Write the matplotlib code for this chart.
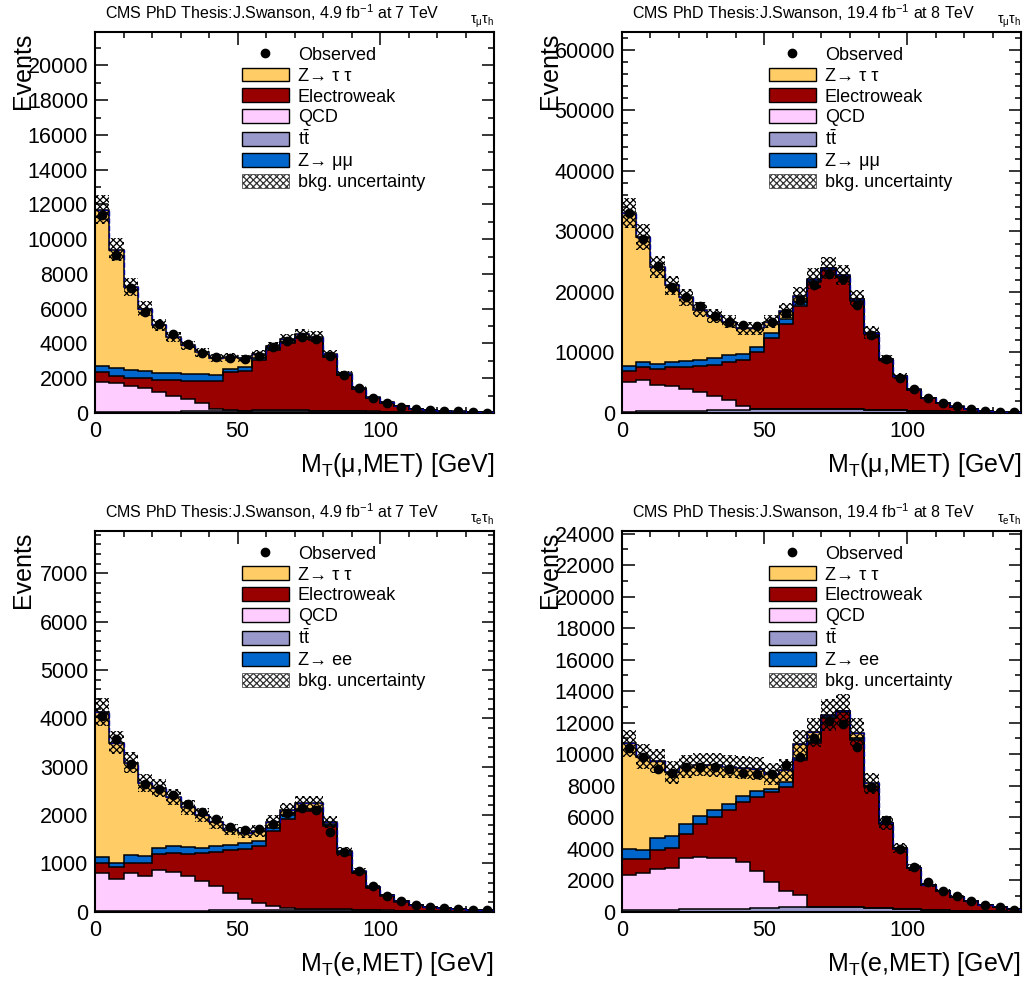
import numpy as np
import matplotlib
matplotlib.use("Agg")
import matplotlib.pyplot as plt
from matplotlib.patches import Patch
from matplotlib.lines import Line2D
from matplotlib.ticker import MultipleLocator

plt.rcParams['font.family'] = ['Liberation Sans', 'DejaVu Sans']
plt.rcParams['mathtext.fontset'] = 'custom'
plt.rcParams['mathtext.rm'] = 'Liberation Sans'
plt.rcParams['mathtext.it'] = 'Liberation Sans:italic'
plt.rcParams['mathtext.bf'] = 'Liberation Sans:bold'
plt.rcParams['hatch.linewidth'] = 0.9

# bins: 0 - 140 GeV, 5 GeV wide
edges = np.arange(0, 145, 5)

# ---- mu-tau, 7 TeV ----
obs_mt7 = [11380, 9100, 7200, 5820, 5100, 4520, 3980, 3470, 3240, 3180, 3080, 3280, 3770, 4160,
           4390, 4230, 3280, 2180, 1420, 880, 560, 360, 210, 170, 110, 100, 60, 20]
ztt_mt7 = [9000, 6830, 4790, 3570, 2740, 2090, 1670, 1270, 1000, 710, 520, 250, 120, 150,
           160, 150, 140, 80, 50, 40, 30, 20, 15, 10, 5, 5, 5, 0]
ewk_mt7 = [580, 410, 480, 570, 670, 900, 1050, 1280, 1650, 2230, 2290, 2900, 3470, 3890,
           4180, 4060, 3110, 2060, 1280, 790, 510, 330, 170, 100, 70, 50, 40, 30]
qcd_mt7 = [1770, 1700, 1500, 1360, 1160, 920, 700, 460, 90, 20, 10, 20, 20, 20,
           20, 20, 20, 20, 10, 10, 10, 10, 10, 10, 10, 10, 5, 0]
tt_mt7 = [30, 40, 50, 60, 70, 80, 90, 100, 120, 130, 130, 130, 130, 130,
          130, 120, 110, 100, 90, 80, 70, 60, 50, 40, 30, 20, 15, 10]
zll_mt7 = [320, 420, 440, 440, 420, 380, 380, 380, 320, 130, 190, 90, 100, 60,
           50, 40, 30, 20, 15, 10, 5, 5, 5, 5, 5, 5, 5, 0]

# ---- mu-tau, 8 TeV ----
obs_mt8 = [33100, 28700, 24300, 20900, 19100, 17600, 16100, 15100, 14500, 14300, 15100, 16600, 18700, 21200,
           23000, 22100, 17800, 12900, 8900, 5800, 3900, 2500, 1660, 1100, 660, 390, 220, 110]
ztt_mt8 = [25250, 20600, 16100, 12600, 10500, 8400, 6900, 5500, 4200, 3100, 1800, 1400, 1000, 200,
           100, 100, 100, 100, 50, 50, 40, 30, 20, 20, 10, 10, 5, 5]
ewk_mt8 = [1900, 2100, 2700, 3200, 3700, 4250, 5200, 6300, 7600, 9280, 11700, 14000, 17000, 20900,
           22900, 21760, 17870, 12430, 8190, 5490, 3390, 2120, 1340, 850, 470, 310, 160, 70]
qcd_mt8 = [4900, 5250, 4300, 4100, 3550, 3100, 2350, 1600, 550, 120, 100, 70, 70, 70,
           50, 40, 30, 20, 10, 10, 10, 10, 10, 0, 0, 0, 0, 0]
tt_mt8 = [200, 250, 300, 300, 350, 400, 450, 500, 550, 600, 600, 650, 650, 650,
          650, 600, 600, 550, 500, 450, 400, 300, 250, 200, 150, 60, 40, 30]
zll_mt8 = [750, 900, 800, 900, 1000, 950, 1100, 1200, 1100, 900, 900, 800, 600, 400,
           300, 300, 300, 200, 150, 100, 60, 40, 30, 20, 10, 10, 5, 5]

# ---- e-tau, 7 TeV ----
obs_et7 = [4050, 3570, 3050, 2650, 2540, 2410, 2230, 2070, 1910, 1750, 1690, 1720, 1820, 2050,
           2140, 2110, 1660, 1230, 840, 530, 330, 230, 140, 100, 76, 55, 48, 40]
ztt_et7 = [3010, 2480, 1900, 1500, 1230, 1000, 810, 670, 480, 320, 220, 200, 140, 110,
           110, 110, 40, 20, 20, 10, 10, 5, 5, 0, 5, 5, 5, 0]
ewk_et7 = [210, 240, 220, 270, 330, 380, 450, 580, 700, 890, 1040, 1180, 1550, 1840,
           2030, 2040, 1720, 1150, 760, 460, 300, 185, 120, 80, 60, 45, 35, 30]
qcd_et7 = [790, 670, 790, 735, 855, 810, 730, 615, 510, 350, 225, 145, 85, 43,
           20, 10, 10, 10, 5, 5, 5, 5, 5, 5, 0, 0, 0, 0]
tt_et7 = [10, 10, 10, 15, 15, 20, 20, 25, 30, 30, 35, 35, 40, 40,
          45, 45, 45, 40, 35, 30, 25, 20, 15, 10, 10, 5, 5, 5]
zll_et7 = [120, 100, 160, 140, 130, 160, 150, 110, 130, 110, 120, 110, 50, 70,
           40, 40, 40, 30, 20, 10, 10, 5, 5, 5, 0, 0, 0, 0]

# ---- e-tau, 8 TeV ----
obs_et8 = [10380, 9850, 9040, 8790, 9170, 9170, 9170, 9040, 8790, 8720, 8720, 9320, 9850, 11020,
           12090, 11910, 10490, 7940, 5810, 4000, 2870, 1870, 1340, 980, 700, 430, 320, 130]
ztt_et8 = [6700, 5910, 4870, 4060, 3660, 3250, 2830, 2340, 1810, 1430, 1000, 740, 890, 550,
           100, 50, 340, 160, 20, 10, 10, 10, 5, 0, 0, 0, 0, 0]
ewk_et8 = [1020, 910, 1220, 1270, 1560, 2130, 2620, 3020, 3830, 4680, 5750, 6640, 8550, 10400,
           12000, 12360, 10630, 7690, 5380, 3820, 2620, 1580, 1250, 890, 610, 410, 250, 130]
qcd_et8 = [2240, 2350, 2600, 2650, 3250, 3320, 3230, 3260, 2950, 2400, 1620, 1020, 790, 20,
           0, 0, 0, 0, 0, 0, 0, 0, 0, 0, 0, 0, 0, 0]
tt_et8 = [100, 100, 120, 120, 150, 150, 170, 170, 200, 220, 250, 280, 300, 300,
          300, 300, 280, 250, 220, 180, 150, 120, 90, 70, 50, 40, 30, 20]
zll_et8 = [640, 580, 760, 750, 590, 490, 470, 420, 360, 360, 150, 320, 150, 110,
           100, 60, 110, 50, 30, 20, 10, 10, 5, 5, 5, 0, 0, 0]

colores = {
    'ztt': '#FFCC66',
    'ewk': '#990000',
    'qcd': '#FFCCFF',
    'tt': '#9999CC',
    'zll': '#0066CC',
}


def dibujar_panel(ax, obs, ztt, ewk, qcd, tt, zll, unc, ymax, ymajor, yminor,
                  lumi, energia, canal, zll_label, xlabel):
    # stack from bottom: ttbar, QCD, electroweak, Z->ll, Z->tautau
    capas = [(tt, 'tt'), (qcd, 'qcd'), (ewk, 'ewk'), (zll, 'zll'), (ztt, 'ztt')]
    base = np.zeros(len(edges) - 1)
    for vals, clave in capas:
        tope = base + np.array(vals, dtype=float)
        ax.stairs(tope, edges, baseline=base, fill=True, color=colores[clave], lw=0, zorder=2)
        ax.stairs(tope, edges, baseline=None, color='black', lw=1.1, zorder=3)
        base = tope
    total = base
    ax.stairs(total, edges, baseline=None, color='#000099', lw=1.0, ls='--', zorder=3)

    # background uncertainty band
    ax.stairs(total * (1 + unc), edges, baseline=total * (1 - unc), fill=True,
              facecolor='none', edgecolor='black', hatch='xxxxx', lw=0, zorder=4)

    centros = 0.5 * (edges[1:] + edges[:-1])
    obs = np.array(obs, dtype=float)
    ax.errorbar(centros, obs, yerr=np.sqrt(obs), fmt='o', color='black', ms=6,
                elinewidth=1, capsize=0, zorder=5)

    ax.set_xlim(0, 140)
    ax.set_ylim(0, ymax)
    ax.xaxis.set_major_locator(MultipleLocator(50))
    ax.xaxis.set_minor_locator(MultipleLocator(10))
    ax.yaxis.set_major_locator(MultipleLocator(ymajor))
    ax.yaxis.set_minor_locator(MultipleLocator(yminor))
    ax.tick_params(which='both', direction='in', top=True, right=True, width=1.1, labelsize=15.5)
    ax.tick_params(which='major', length=9)
    ax.tick_params(which='minor', length=4.5)
    ax.tick_params(axis='x', pad=6)
    ax.tick_params(axis='y', pad=5)
    for s in ax.spines.values():
        s.set_linewidth(1.5)

    ax.set_ylabel('Events', fontsize=18, loc='top')
    ax.yaxis.set_label_coords(-0.15, 1.0)
    ax.set_xlabel(xlabel, fontsize=18, loc='right')
    ax.xaxis.set_label_coords(1.0, -0.1)

    ax.text(0.025, 1.035, 'CMS PhD Thesis:J.Swanson, %s fb$^{-1}$ at %s TeV' % (lumi, energia),
            transform=ax.transAxes, fontsize=11.5, va='baseline', ha='left')
    ax.text(1.0, 1.022, canal, transform=ax.transAxes, fontsize=10, va='baseline', ha='right')

    handles = [
        Line2D([], [], marker='o', color='black', ls='none', ms=6),
        Patch(facecolor=colores['ztt'], edgecolor='black', lw=1),
        Patch(facecolor=colores['ewk'], edgecolor='black', lw=1),
        Patch(facecolor=colores['qcd'], edgecolor='black', lw=1),
        Patch(facecolor=colores['tt'], edgecolor='black', lw=1),
        Patch(facecolor=colores['zll'], edgecolor='black', lw=1),
        Patch(facecolor='white', edgecolor='#333333', hatch='xxxxx', lw=0.5),
    ]
    etiquetas = ['Observed', 'Z\u2192 \u03c4 \u03c4', 'Electroweak', 'QCD',
                 't$\\bar{\\mathrm{t}}$', zll_label, 'bkg. uncertainty']
    ax.legend(handles, etiquetas, loc='upper left', bbox_to_anchor=(0.368, 0.962),
              frameon=False, fontsize=13, handlelength=2.6, handleheight=0.8,
              handletextpad=0.5, labelspacing=0.2, borderpad=0, borderaxespad=0)


fig = plt.figure(figsize=(10.33, 9.81), dpi=100)
ax1 = fig.add_axes([0.092, 0.579, 0.3863, 0.388])
ax2 = fig.add_axes([0.6021, 0.579, 0.3863, 0.388])
ax3 = fig.add_axes([0.092, 0.0705, 0.3863, 0.388])
ax4 = fig.add_axes([0.6021, 0.0705, 0.3863, 0.388])

dibujar_panel(ax1, obs_mt7, ztt_mt7, ewk_mt7, qcd_mt7, tt_mt7, zll_mt7, 0.07,
              21900, 2000, 1000, '4.9', '7', '\u03c4$_{\\mathrm{\u03bc}}$\u03c4$_{\\mathrm{h}}$',
              'Z\u2192 \u03bc\u03bc', 'M$_{\\mathrm{T}}$(\u03bc,MET) [GeV]')
dibujar_panel(ax2, obs_mt8, ztt_mt8, ewk_mt8, qcd_mt8, tt_mt8, zll_mt8, 0.075,
              62900, 10000, 2000, '19.4', '8', '\u03c4$_{\\mathrm{\u03bc}}$\u03c4$_{\\mathrm{h}}$',
              'Z\u2192 \u03bc\u03bc', 'M$_{\\mathrm{T}}$(\u03bc,MET) [GeV]')
dibujar_panel(ax3, obs_et7, ztt_et7, ewk_et7, qcd_et7, tt_et7, zll_et7, 0.07,
              7870, 1000, 200, '4.9', '7', '\u03c4$_{\\mathrm{e}}$\u03c4$_{\\mathrm{h}}$',
              'Z\u2192 ee', 'M$_{\\mathrm{T}}$(e,MET) [GeV]')
dibujar_panel(ax4, obs_et8, ztt_et8, ewk_et8, qcd_et8, tt_et8, zll_et8, 0.08,
              24150, 2000, 1000, '19.4', '8', '\u03c4$_{\\mathrm{e}}$\u03c4$_{\\mathrm{h}}$',
              'Z\u2192 ee', 'M$_{\\mathrm{T}}$(e,MET) [GeV]')

fig.savefig('out.png', dpi=100)
